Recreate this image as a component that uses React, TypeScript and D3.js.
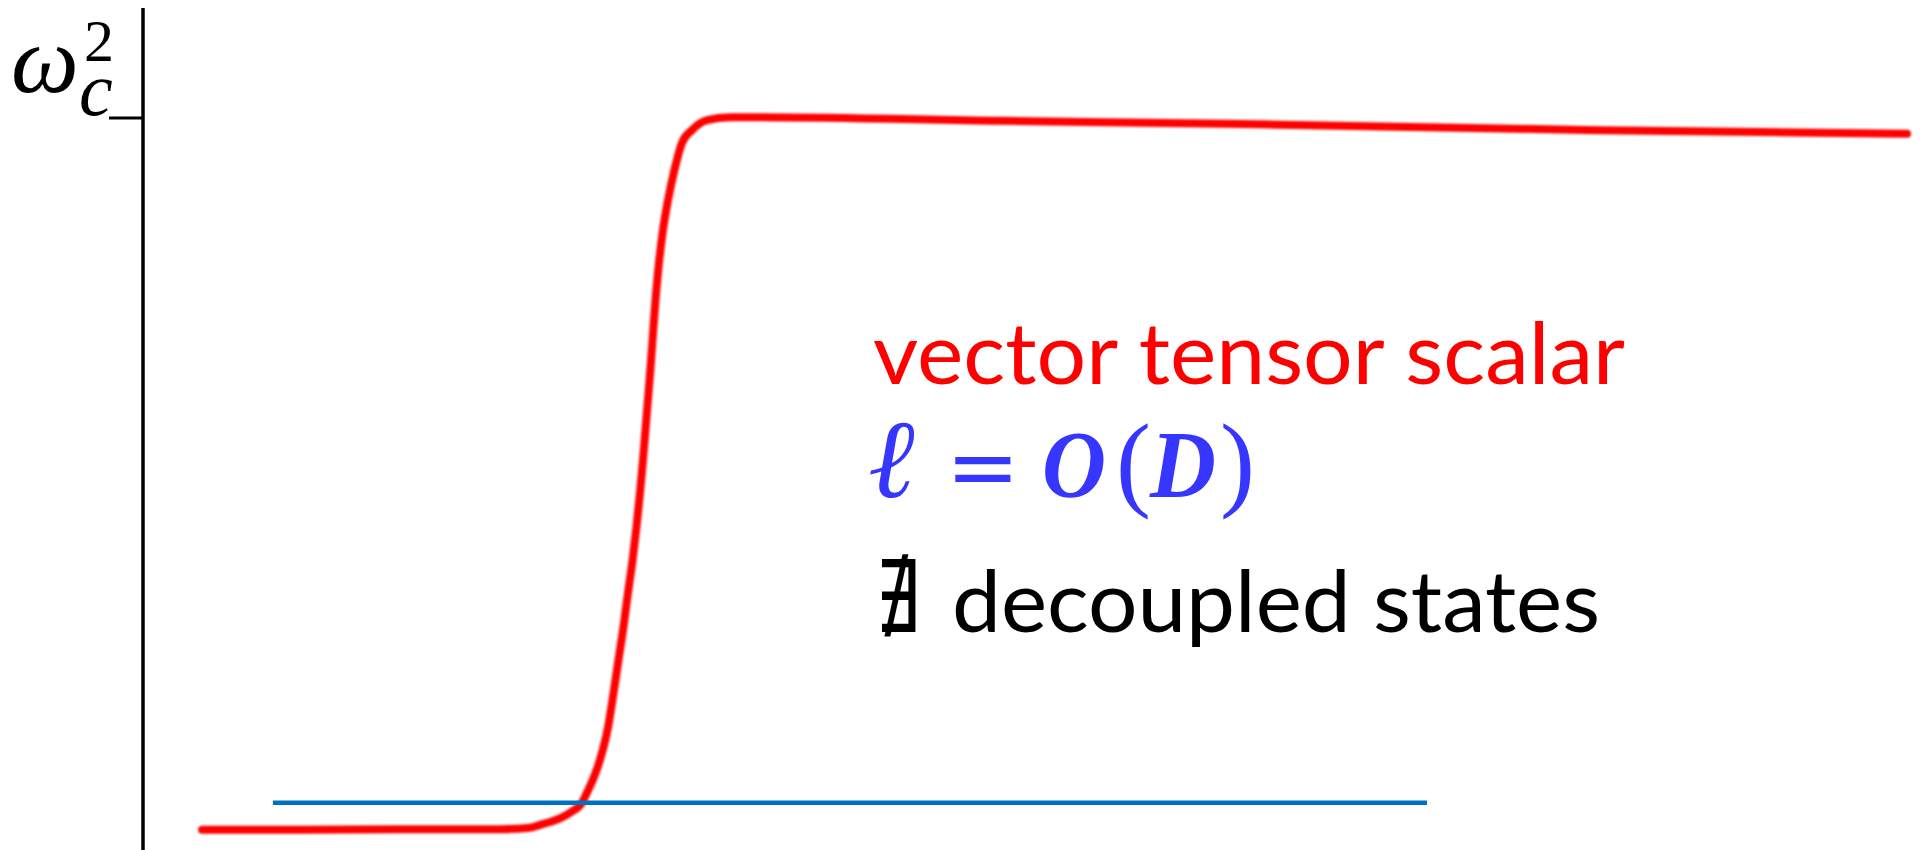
import React from "react";
import * as d3 from "d3";

// Red curve: critical frequency squared against the horizontal parameter
const curveX = [
  0.335, 0.891, 1.458, 2.025, 2.195, 2.252, 2.309, 2.365, 2.422, 2.49, 2.518,
  2.558, 2.592, 2.638, 2.669, 2.697, 2.725, 2.751, 2.777, 2.799, 2.819, 2.836,
  2.85, 2.864, 2.879, 2.893, 2.907, 2.924, 2.947, 2.978, 3.018, 3.057, 3.114,
  3.199, 3.33, 3.5, 4.861, 6.143, 8.264, 10.006,
];
const curveY = [
  0.003, 0.003, 0.004, 0.004, 0.006, 0.01, 0.014, 0.019, 0.027, 0.041, 0.055,
  0.077, 0.101, 0.147, 0.195, 0.241, 0.287, 0.335, 0.381, 0.427, 0.475, 0.521,
  0.563, 0.605, 0.651, 0.699, 0.745, 0.791, 0.839, 0.885, 0.931, 0.965, 0.983,
  0.997, 1.001, 1.001, 0.996, 0.992, 0.983, 0.978,
];

// Blue reference level and its horizontal extent
const blueLevel = [0.041];
const blueExtent = [0.737, 7.283];

// Axis extents (data units)
const xAxisExtent = [-0.49, 10.0];
const yAxisExtent = [-0.026, 1.154];

// Y tick
const yTicks = [1];

// Annotation lines
const annotationLines = ["vector tensor scalar", "decoupled states"];

const W = 1923;
const H = 850;

const x = d3.scaleLinear().domain([0, 10]).range([143, 1906]);
const y = d3.scaleLinear().domain([0, 1]).range([832, 118]);

const curvePoints: [number, number][] = curveX.map((v, i) => [v, curveY[i]]);
const line = d3
  .line<[number, number]>()
  .x((d) => x(d[0]))
  .y((d) => y(d[1]))
  .curve(d3.curveMonotoneX);

const BLUE_TEXT = "#3636ff";
const SERIF = "'Liberation Serif', 'DejaVu Serif', serif";
const SANS = "Lato, 'Open Sans', sans-serif";

export default function App() {
  return (
    <svg
      width={W}
      height={H}
      viewBox={`0 0 ${W} ${H}`}
      style={{ position: "absolute", left: 0, top: 0, display: "block", background: "#fff" }}
    >
      <defs>
        <filter id="soft" x="-5%" y="-5%" width="110%" height="110%">
          <feGaussianBlur stdDeviation="0.9" />
        </filter>
      </defs>
      <rect x={0} y={0} width={W} height={H} fill="#fff" />

      {/* red curve */}
      <path
        d={line(curvePoints) || ""}
        fill="none"
        stroke="#ff0000"
        strokeWidth={8}
        strokeLinecap="round"
        strokeLinejoin="round"
        filter="url(#soft)"
      />

      {/* horizontal axis */}
      <line
        x1={x(xAxisExtent[0])}
        x2={x(xAxisExtent[1])}
        y1={y(0)}
        y2={y(0)}
        stroke="#222"
        strokeWidth={5.5}
        filter="url(#soft)"
      />

      {/* blue level */}
      {blueLevel.map((v, i) => (
        <line
          key={i}
          x1={x(blueExtent[0])}
          x2={x(blueExtent[1])}
          y1={y(v)}
          y2={y(v)}
          stroke="#0070c0"
          strokeWidth={4.5}
        />
      ))}

      {/* vertical axis */}
      <line
        x1={x(0)}
        x2={x(0)}
        y1={y(yAxisExtent[0])}
        y2={y(yAxisExtent[1])}
        stroke="#000"
        strokeWidth={3.5}
      />
      {yTicks.map((t) => (
        <line key={t} x1={x(0) - 34} x2={x(0)} y1={y(t)} y2={y(t)} stroke="#000" strokeWidth={3} />
      ))}

      {/* tick label: omega_c^2 */}
      <text x={11} y={92} fontFamily={SERIF} fontStyle="italic" fontSize={96} fill="#000">
        ω
        <tspan x={79} y={115} fontSize={76}>
          c
        </tspan>
        <tspan x={84} y={61} fontStyle="normal" fontSize={60}>
          2
        </tspan>
      </text>

      {/* annotations */}
      <text
        x={873}
        y={384}
        fontFamily={SANS}
        fontSize={86}
        fill="#ff0000"
        textLength={752}
        lengthAdjust="spacingAndGlyphs"
      >
        {annotationLines[0]}
      </text>

      <text y={497} fontFamily={SERIF} fontSize={95} fill={BLUE_TEXT}>
        <tspan x={868} fontStyle="italic" fontSize={112}>
          ℓ
        </tspan>
        <tspan x={946} fontFamily="'DejaVu Sans', sans-serif" fontSize={88}>
          =
        </tspan>
        <tspan x={1042} fontStyle="italic" fontWeight="bold" textLength={64} lengthAdjust="spacingAndGlyphs">
          O
        </tspan>
        <tspan x={1116} fontSize={105}>
          (
        </tspan>
        <tspan x={1150} fontStyle="italic" fontWeight="bold" textLength={66} lengthAdjust="spacingAndGlyphs">
          D
        </tspan>
        <tspan x={1220} fontSize={105}>
          )
        </tspan>
      </text>

      <text y={632} fill="#000">
        <tspan
          x={875}
          fontFamily="'DejaVu Sans', sans-serif"
          fontSize={100}
          textLength={45}
          lengthAdjust="spacingAndGlyphs"
        >
          ∄
        </tspan>
        <tspan x={952} fontFamily={SANS} fontSize={86} textLength={648} lengthAdjust="spacingAndGlyphs">
          {annotationLines[1]}
        </tspan>
      </text>
    </svg>
  );
}
